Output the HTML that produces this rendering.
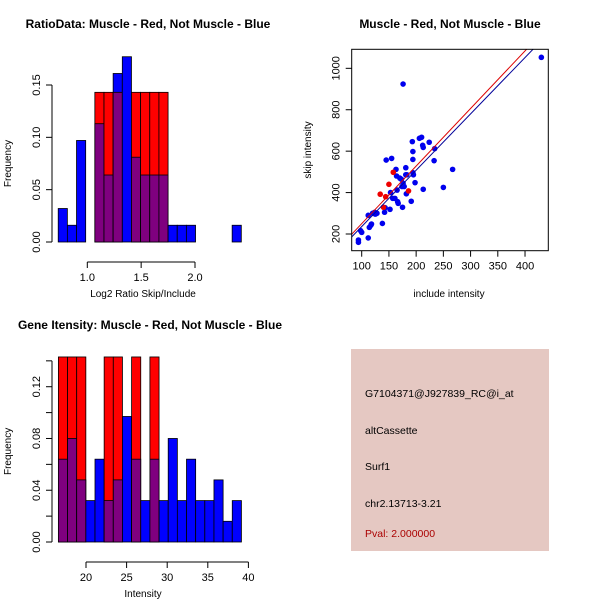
<!DOCTYPE html>
<html><head><meta charset="utf-8"><style>
html,body{margin:0;padding:0;background:#fff;}
svg{display:block;font-family:"Liberation Sans",Arial,sans-serif;}
</style></head><body>
<svg id="c" width="600" height="600" viewBox="0 0 600 600"></svg>
<script>
// ---- data ----
const ratioBlue = [0.032,0.016,0.097,0,0.113,0.064,0.161,0.177,0.081,0.064,0.064,0.064,0.016,0.016,0.016,0,0,0,0,0.016];
const ratioRed  = [0,0,0,0,0.143,0.143,0.143,0,0.143,0.143,0.143,0.143,0,0,0,0,0,0,0,0];
const ratioBinStart = 0.73, ratioBinWidth = 0.085;
const ratioXTicks = [1.0,1.5,2.0];
const ratioXTickLabels = ["1.0","1.5","2.0"];
const ratioYTicks = [0,0.05,0.10,0.15];
const ratioYTickLabels = ["0.00","0.05","0.10","0.15"];

const intBlue = [0.064,0.080,0.048,0.032,0.064,0.032,0.048,0.097,0.064,0.032,0.064,0.032,0.080,0.032,0.064,0.032,0.032,0.048,0.016,0.032];
const intRed  = [0.143,0.143,0.143,0,0,0.143,0.143,0,0.143,0,0.143,0,0,0,0,0,0,0,0,0];
const intBinStart = 16.6, intBinWidth = 1.127;
const intXTicks = [20,25,30,35,40];
const intYTicks = [0,0.02,0.04,0.06,0.08,0.10,0.12,0.14];
const intYTickLabels = ["0.00","","0.04","","0.08","","0.12",""];

const scatBlueX = [94,94,98,100,112,114,117,118,112,120,125,128,124,138,142,143,145,155,163,164,152,153,157,161,166,167,175,176,174,178,181,183,182,181,191,194,194,193,194,195,198,206,210,212,213,213,224,234,233,250,267,430,173,176,165,170];
const scatBlueY = [171,160,216,208,181,232,243,248,290,300,296,300,305,251,305,327,557,565,512,480,319,400,372,372,356,348,329,924,429,429,486,486,394,520,358,560,598,646,496,486,448,662,667,628,618,416,643,612,554,425,512,1053,464,445,412,470];
const scatRedX = [134,144,150,158,140,186];
const scatRedY = [392,380,440,498,329,408];
const scatXTicks = [100,150,200,250,300,350,400];
const scatYTicks = [200,400,600,800,1000];
const redFit = [-28, 2.78];   // intercept, slope
const blueFit = [-36, 2.72];

const NS="http://www.w3.org/2000/svg";
const svg=document.getElementById('c');
function mk(tag,attrs,parent){const e=document.createElementNS(NS,tag);for(const k in attrs)e.setAttribute(k,attrs[k]);(parent||svg).appendChild(e);return e;}
function txt(s,x,y,opts,parent){const t=mk('text',Object.assign({x:x,y:y,'font-size':11,'text-anchor':'middle',fill:'#000'},opts||{}),parent);t.textContent=s;return t;}

function histogram(name,title,titleX,titleY,blue,red,bStart,bW,xs,ys,xTicks,xLabels,yTicks,yLabels,xTitle,xTitleY){
  const g=mk('g',{});
  
  
  const t=txt(title,titleX,titleY,{'font-weight':'bold','font-size':12},g);
  
  
  for(let i=0;i<blue.length;i++){
    const x0=xs(bStart+i*bW), x1=xs(bStart+(i+1)*bW);
    const b=blue[i], r=red[i], lo=Math.min(b,r), hi=Math.max(b,r);
    if(hi<=0) continue;
    const top=mk('rect',{x:x0,y:ys(hi),width:x1-x0,height:ys(0)-ys(hi),fill:(r>b?'#ff0000':'#0000ff'),stroke:'#000','stroke-width':0.8},g);
    
    
    if(lo>0){
      const p=mk('rect',{x:x0,y:ys(lo),width:x1-x0,height:ys(0)-ys(lo),fill:'#7f007f',stroke:'#000','stroke-width':0.8},g);
      
      
    }
  }
  // y axis
  const ya=mk('g',{},g);
  
  
  mk('line',{x1:52,x2:52,y1:ys(yTicks[0]),y2:ys(yTicks[yTicks.length-1]),stroke:'#000'},ya);
  yTicks.forEach((v,i)=>{mk('line',{x1:46,x2:52,y1:ys(v),y2:ys(v),stroke:'#000'},ya);
    if(yLabels[i]) txt(yLabels[i],0,0,{transform:`translate(40,${ys(v)}) rotate(-90)`,'font-size':11},ya);});
  const yt=txt('Frequency',0,0,{transform:`translate(11,${(ys(yTicks[0])+ys(yTicks[yTicks.length-1]))/2}) rotate(-90)`,'font-size':10},g);
  
  
  // x axis
  const xa=mk('g',{},g);
  
  
  const ay=ys(0)+20;
  mk('line',{x1:xs(xTicks[0]),x2:xs(xTicks[xTicks.length-1]),y1:ay,y2:ay,stroke:'#000'},xa);
  xTicks.forEach((v,i)=>{mk('line',{x1:xs(v),x2:xs(v),y1:ay,y2:ay+6,stroke:'#000'},xa);
    txt(xLabels[i],xs(v),ay+19,{'font-size':11},xa);});
  const xt=txt(xTitle,143,xTitleY,{'font-size':10},g);
  
  
}

// top-left
histogram('ratio-histogram','RatioData: Muscle - Red, Not Muscle - Blue',148,28,ratioBlue,ratioRed,ratioBinStart,ratioBinWidth,
  v=>87.3+(v-1.0)*107.7, v=>242-v*1046.7, ratioXTicks,ratioXTickLabels,ratioYTicks,ratioYTickLabels,'Log2 Ratio Skip/Include',297);
// bottom-left
histogram('intensity-histogram','Gene Itensity: Muscle - Red, Not Muscle - Blue',150,329,intBlue,intRed,intBinStart,intBinWidth,
  v=>86+(v-20)*8.12, v=>542-v*1294, intXTicks,intXTicks.map(String),intYTicks,intYTickLabels,'Intensity',597);

// scatter
(function(){
  const g=mk('g',{});
  
  
  const xs=v=>361.7+(v-100)*0.5444, ys=v=>234-(v-200)*0.2071;
  const L=351.7,R=548.3,T=49.3,B=250.7;
  const t=txt('Muscle - Red, Not Muscle - Blue',450,28,{'font-weight':'bold','font-size':12},g);
  
  
  mk('clipPath',{id:'clipS'},g).appendChild((()=>{const r=document.createElementNS(NS,'rect');r.setAttribute('x',L);r.setAttribute('y',T);r.setAttribute('width',R-L);r.setAttribute('height',B-T);return r;})());
  const pts=mk('g',{'clip-path':'url(#clipS)'},g);
  for(let i=0;i<scatBlueX.length;i++){
    const c=mk('circle',{cx:xs(scatBlueX[i]),cy:ys(scatBlueY[i]),r:2.8,fill:'#0000ee'},pts);
    
    
  }
  for(let i=0;i<scatRedX.length;i++){
    const c=mk('circle',{cx:xs(scatRedX[i]),cy:ys(scatRedY[i]),r:2.8,fill:'#ee0000'},pts);
    
    
  }
  const x0=60,x1=460;
  const rl=mk('line',{x1:xs(x0),y1:ys(redFit[0]+redFit[1]*x0),x2:xs(x1),y2:ys(redFit[0]+redFit[1]*x1),stroke:'#dd0000','stroke-width':1},pts);
  
  
  const bl=mk('line',{x1:xs(x0),y1:ys(blueFit[0]+blueFit[1]*x0),x2:xs(x1),y2:ys(blueFit[0]+blueFit[1]*x1),stroke:'#000099','stroke-width':1},pts);
  
  
  mk('rect',{x:L,y:T,width:R-L,height:B-T,fill:'none',stroke:'#000'},g);
  const xa=mk('g',{},g);
  
  
  scatXTicks.forEach(v=>{mk('line',{x1:xs(v),x2:xs(v),y1:B,y2:B+6,stroke:'#000'},xa);txt(String(v),xs(v),B+19,{},xa);});
  const ya=mk('g',{},g);
  
  
  scatYTicks.forEach(v=>{mk('line',{x1:L-6,x2:L,y1:ys(v),y2:ys(v),stroke:'#000'},ya);txt(String(v),0,0,{transform:`translate(${L-12},${ys(v)}) rotate(-90)`},ya);});
  const xt=txt('include intensity',449,297,{'font-size':10},g);
  
  
  const yt=txt('skip intensity',0,0,{transform:'translate(311,150) rotate(-90)','font-size':10},g);
  
  
})();

// info box
(function(){
  const g=mk('g',{});
  
  
  mk('rect',{x:351,y:349,width:198,height:202,fill:'#e5c8c2'},g);
  const lines=[['G7104371@J927839_RC@i_at',397,'#000','probe-id'],['altCassette',434,'#000','event-type'],['Surf1',470,'#000','gene-name'],['chr2.13713-3.21',507,'#000','location'],['Pval: 2.000000',537,'#aa0000','p-value']];
  lines.forEach(l=>{const t=txt(l[0],365,l[1],{'text-anchor':'start','font-size':10.5,fill:l[2]},g);
    
    });
})();
</script>
</body></html>
